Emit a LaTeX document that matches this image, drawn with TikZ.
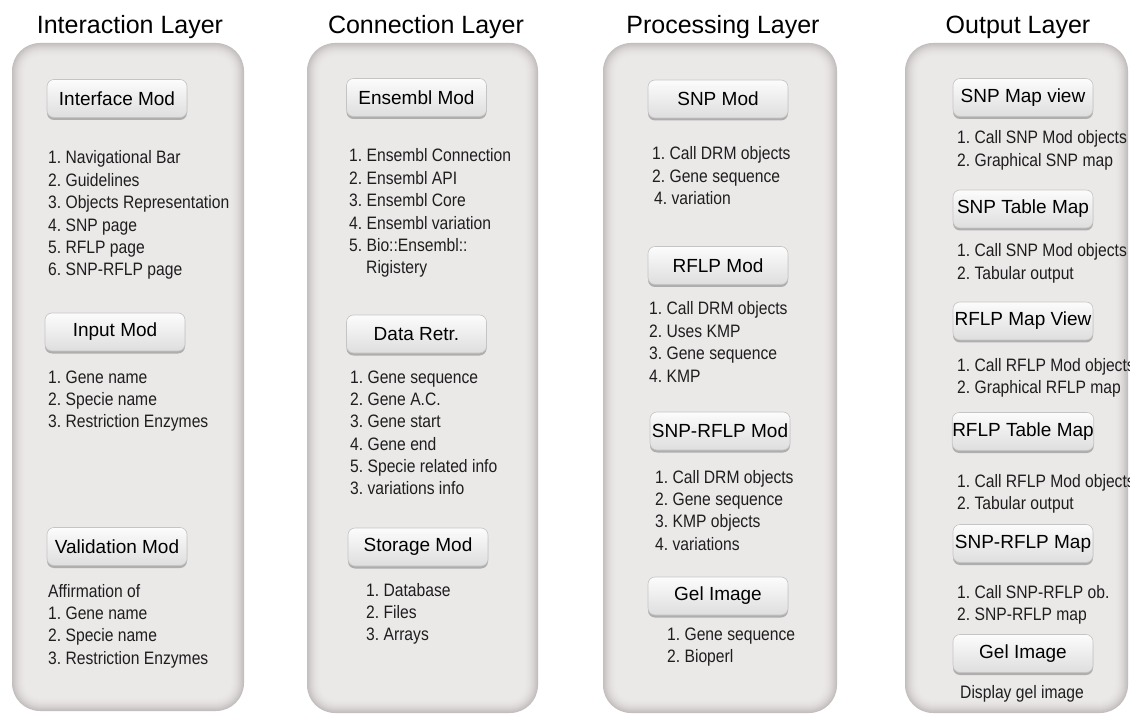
\documentclass[tikz,border=0pt]{standalone}
\usepackage{fontspec}
\setmainfont{Liberation Sans}
\newfontfamily\narrowsans[FakeStretch=0.87]{Liberation Sans}
\usetikzlibrary{shadows}
\frenchspacing

\definecolor{pdark}{RGB}{196,190,190}
\definecolor{plight}{RGB}{235,232,232}
\definecolor{btntop}{RGB}{252,252,252}
\definecolor{btnbot}{RGB}{222,222,222}
\definecolor{btnedge}{RGB}{196,196,196}
\definecolor{ink}{RGB}{30,30,30}

% A layer panel: rounded box whose edges darken softly towards the rim
\newcommand\layerpanel[4]{%
  \foreach \i in {0,...,14}{%
    \pgfmathsetmacro\pct{100*(1-\i/14)^2}%
    \pgfmathsetmacro\rad{max(28-\i,14)}%
    \fill[pdark!\pct!plight, rounded corners=\rad pt]
      ({#1+\i},{#2+\i}) rectangle ({#3-\i},{#4-\i});
  }%
}

% Left-aligned rows whose baseline is that of the first row
\newcommand\itemrows[1]{\begin{tabular}[t]{@{}l@{}}#1\end{tabular}}

\begin{document}
\begin{tikzpicture}[x=1pt,y=-1pt,
  layertitle/.style={anchor=base, inner sep=0pt, text=black,
    font=\fontsize{25}{30}\selectfont},
  modbtn/.style={rounded corners=7pt, draw=btnedge, line width=0.6pt,
    top color=btntop, bottom color=btnbot,
    minimum width=140pt, minimum height=38pt, inner sep=0pt,
    text=black, font=\fontsize{19}{22}\selectfont,
    drop shadow={shadow xshift=0pt, shadow yshift=-2.5pt,
      fill=black, opacity=0.25}},
  itemlist/.style={anchor=base west, inner sep=0pt, text=ink,
    font=\narrowsans\fontsize{18}{22.4}\selectfont}]

\useasboundingbox[fill=white] (0,0) rectangle (1130,719);

% panels
\layerpanel{12}{43}{244}{711}
\layerpanel{307}{43}{538}{713}
\layerpanel{603}{43}{837}{713}
\layerpanel{905}{43}{1128}{713}

% titles
\node[layertitle] (tInter) at (130,34) {Interaction Layer};
\node[layertitle] (tConn)  at (426,34) {Connection Layer};
\node[layertitle] (tProc)  at (723,34) {Processing Layer};
\node[layertitle] (tOut)   at (1018,34) {Output Layer};

% Interaction layer
\node[modbtn] (interface) at (117,98.5) {Interface Mod};
\node[itemlist] (interfaceL) at (48,164) {\itemrows{1. Navigational Bar\\2. Guidelines\\3. Objects Representation\\4. SNP page\\5. RFLP page\\6. SNP-RFLP page}};
\node[modbtn] (input) at (115,332) {Input Mod};
\node[itemlist] (inputL) at (48,383) {\itemrows{1. Gene name\\2. Specie name\\3. Restriction Enzymes}};
\node[modbtn] (valid) at (117,546.5) {Validation Mod};
\node[itemlist] (validL) at (48,597) {\itemrows{Affirmation of\\1. Gene name\\2. Specie name\\3. Restriction Enzymes}};

% Connection layer
\node[modbtn] (ensembl) at (416.5,97.5) {Ensembl Mod};
\node[itemlist] (ensemblL) at (349,162) {\itemrows{1. Ensembl Connection\\2. Ensembl API\\3. Ensembl Core\\4. Ensembl variation\\5. Bio::Ensembl::\\\hspace*{17pt}Rigistery}};
\node[modbtn] (dataretr) at (416.5,334) {Data Retr.};
\node[itemlist] (dataretrL) at (350,383) {\itemrows{1. Gene sequence\\2. Gene A.C.\\3. Gene start\\4. Gene end\\5. Specie related info\\3. variations info}};
\node[modbtn] (storage) at (418,547) {Storage Mod};
\node[itemlist] (storageL) at (366,596) {\itemrows{1. Database\\2. Files\\3. Arrays}};

% Processing layer
\node[modbtn] (snp) at (718,99) {SNP Mod};
\node[itemlist] (snpL) at (652,160) {\itemrows{1. Call DRM objects\\2. Gene sequence\\\hspace*{2pt}4. variation}};
\node[modbtn] (rflp) at (718,265.5) {RFLP Mod};
\node[itemlist] (rflpL) at (649,315) {\itemrows{1. Call DRM objects\\2. Uses KMP\\3. Gene sequence\\4. KMP}};
\node[modbtn] (snprflp) at (720,431) {SNP-RFLP Mod};
\node[itemlist] (snprflpL) at (655,483) {\itemrows{1. Call DRM objects\\2. Gene sequence\\3. KMP objects\\4. variations}};
\node[modbtn] (gel) at (718,596) {Gel Image};
\node[itemlist] (gelL) at (667,640) {\itemrows{1. Gene sequence\\2. Bioperl}};

% Output layer
\node[modbtn] (snpmap) at (1023,97.5) {SNP Map view};
\node[itemlist] (snpmapL) at (957,144) {\itemrows{1. Call SNP Mod objects\\2. Graphical SNP map}};
\node[modbtn] (snptab) at (1023,209) {SNP Table Map};
\node[itemlist] (snptabL) at (957,257) {\itemrows{1. Call SNP Mod objects\\2. Tabular output}};
\node[modbtn] (rflpmap) at (1023,321) {RFLP Map View};
\node[itemlist] (rflpmapL) at (957,371) {\itemrows{1. Call RFLP Mod objects\\2. Graphical RFLP map}};
\node[modbtn] (rflptab) at (1023,431.5) {RFLP Table Map};
\node[itemlist] (rflptabL) at (957,487) {\itemrows{1. Call RFLP Mod objects\\2. Tabular output}};
\node[modbtn] (snprflpmap) at (1023,543.5) {SNP-RFLP Map};
\node[itemlist] (snprflpmapL) at (957,598) {\itemrows{1. Call SNP-RFLP ob.\\2. SNP-RFLP map}};
\node[modbtn] (gelout) at (1023,653.5) {Gel Image};
\node[itemlist] (geloutL) at (960,698) {Display gel image};

\end{tikzpicture}
\end{document}
